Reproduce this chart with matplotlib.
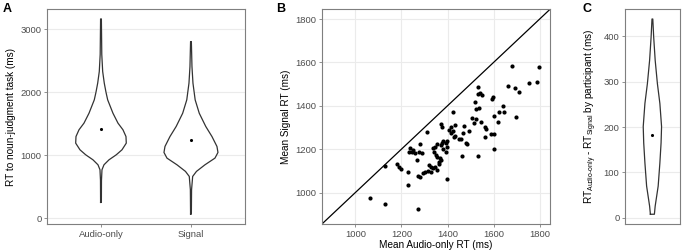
import matplotlib
matplotlib.use('Agg')
import matplotlib.pyplot as plt
import numpy as np

plt.rcParams['font.family'] = ['Liberation Sans', 'DejaVu Sans']
plt.rcParams['mathtext.default'] = 'regular'

# Panel A: violin outlines (RT in ms, half width in px)
audio_y = [248, 600, 767, 846, 925, 1005, 1084, 1190, 1295, 1402, 1508, 1665, 1878, 2000, 2143, 2328, 2600, 3164]
audio_w = [0.4, 0.5, 1.0, 3.0, 8.0, 15.3, 21.0, 25.3, 25.0, 22.0, 17.0, 12.0, 6.7, 5.0, 3.3, 1.7, 0.8, 0.4]
signal_y = [63, 450, 661, 741, 846, 952, 1042, 1137, 1295, 1455, 1665, 1878, 2143, 2407, 2804]
signal_w = [0.4, 0.6, 1.7, 5.5, 14.0, 24.0, 27.0, 26.0, 21.0, 14.8, 8.3, 4.2, 2.0, 1.0, 0.4]
conditions = ['Audio-only', 'Signal']
cond_means = [1422, 1243]

# Panel B: mean RT per participant
audio_rt = [1064, 1130, 1272, 1129, 1182, 1189, 1196, 1227, 1230, 1272,
            1268, 1232, 1246, 1261, 1275, 1279, 1239, 1252, 1289, 1311,
            1279, 1294, 1303, 1315, 1329, 1321, 1329, 1339, 1346, 1354,
            1343, 1351, 1368, 1361, 1371, 1365, 1354, 1346, 1339, 1372,
            1375, 1379, 1375, 1382, 1394, 1399, 1397, 1392, 1399, 1422,
            1415, 1406, 1413, 1424, 1432, 1428, 1432, 1448, 1458, 1479,
            1485, 1468, 1492, 1472, 1461, 1508, 1514, 1522, 1519, 1534,
            1542, 1548, 1522, 1535, 1546, 1533, 1561, 1565, 1562, 1587,
            1600, 1600, 1597, 1591, 1603, 1617, 1639, 1622, 1645, 1697,
            1661, 1692, 1710, 1678, 1755, 1790, 1798, 1532, 1371, 1354]
signal_rt = [976, 947, 923, 1123, 1130, 1120, 1108, 1095, 1037, 1074,
             1150, 1189, 1189, 1184, 1189, 1223, 1204, 1196, 1181, 1278,
             1071, 1092, 1097, 1098, 1095, 1127, 1117, 1112, 1120, 1104,
             1189, 1173, 1158, 1143, 1150, 1132, 1223, 1211, 1204, 1314,
             1303, 1239, 1227, 1200, 1187, 1064, 1236, 1227, 1209, 1370,
             1302, 1288, 1274, 1284, 1311, 1255, 1262, 1248, 1246, 1230,
             1223, 1273, 1284, 1307, 1169, 1342, 1322, 1341, 1416, 1485,
             1458, 1449, 1386, 1388, 1326, 1170, 1303, 1295, 1256, 1269,
             1269, 1200, 1441, 1430, 1354, 1326, 1397, 1370, 1373, 1347,
             1493, 1481, 1463, 1584, 1506, 1510, 1578, 1454, 1218, 1162]

# Panel C: difference violin (ms, half width in px)
diff_y = [8, 26, 70, 121, 165, 201, 252, 296, 347, 398, 438]
diff_w = [2.0, 2.8, 5.8, 7.5, 8.7, 9.2, 7.5, 5.0, 2.8, 1.3, 0.4]
diff_mean = 183

grid_c = '#ebebeb'
spine_c = '#7f7f7f'
tick_c = '#4d4d4d'
outline_c = '#333333'


def style(ax, xgrid=False):
    for s in ax.spines.values():
        s.set_color(spine_c)
        s.set_linewidth(0.8)
    ax.tick_params(colors=spine_c, labelcolor=tick_c, labelsize=6.8, length=2.5, width=0.6, pad=1.5)
    ax.grid(axis='y', color=grid_c, lw=0.8)
    if xgrid:
        ax.grid(axis='x', color=grid_c, lw=0.8)
    ax.set_axisbelow(True)


def violin(ax, pos, ys, ws, px_per_unit):
    ys = np.array(ys)
    w = np.array(ws) / px_per_unit
    xs = np.concatenate([pos - w, (pos + w)[::-1], [pos - w[0]]])
    yy = np.concatenate([ys, ys[::-1], [ys[0]]])
    ax.fill(xs, yy, color='white', zorder=2)
    ax.plot(xs, yy, color=outline_c, lw=0.9, zorder=3)


fig = plt.figure(figsize=(6.85, 2.5), dpi=100)

# A
axA = fig.add_axes([0.0686, 0.104, 0.289, 0.859])
violin(axA, 1, audio_y, audio_w, 90)
violin(axA, 2, signal_y, signal_w, 90)
axA.scatter([1, 2], cond_means, s=5, color='black', zorder=4, linewidths=0)
axA.set_xlim(0.4, 2.6)
axA.set_ylim(-95, 3318)
axA.set_xticks([1, 2])
axA.set_xticklabels(conditions)
axA.set_yticks([0, 1000, 2000, 3000])
axA.set_ylabel('RT to noun-judgment task (ms)', fontsize=7.2, labelpad=3)
style(axA)

# B
axB = fig.add_axes([0.470, 0.104, 0.333, 0.859])
axB.scatter(audio_rt, signal_rt, s=9, color='black', linewidths=0, zorder=3)
axB.axline((1000, 1000), slope=1, color='black', lw=0.9, zorder=2)
axB.set_xlim(855, 1845)
axB.set_ylim(855, 1845)
axB.set_xticks([1000, 1200, 1400, 1600, 1800])
axB.set_yticks([1000, 1200, 1400, 1600, 1800])
axB.set_xlabel('Mean Audio-only RT (ms)', fontsize=7.2, labelpad=1)
axB.set_ylabel('Mean Signal RT (ms)', fontsize=7.2, labelpad=3)
style(axB, xgrid=True)

# C
axC = fig.add_axes([0.9124, 0.104, 0.080, 0.859])
violin(axC, 1, diff_y, diff_w, 45.8)
axC.scatter([1], [diff_mean], s=5, color='black', zorder=4, linewidths=0)
axC.set_xlim(0.4, 1.6)
axC.set_ylim(-13.5, 459.5)
axC.set_xticks([])
axC.set_yticks([0, 100, 200, 300, 400])
axC.set_ylabel('RT$_{Audio\u2010only}$ - RT$_{Signal}$ by participant (ms)', fontsize=7.2, labelpad=3)
style(axC)

for label, x in [('A', 0.004), ('B', 0.403), ('C', 0.850)]:
    fig.text(x, 0.99, label, fontsize=9, fontweight='bold', va='top', ha='left')

fig.savefig('out.png', dpi=100)
